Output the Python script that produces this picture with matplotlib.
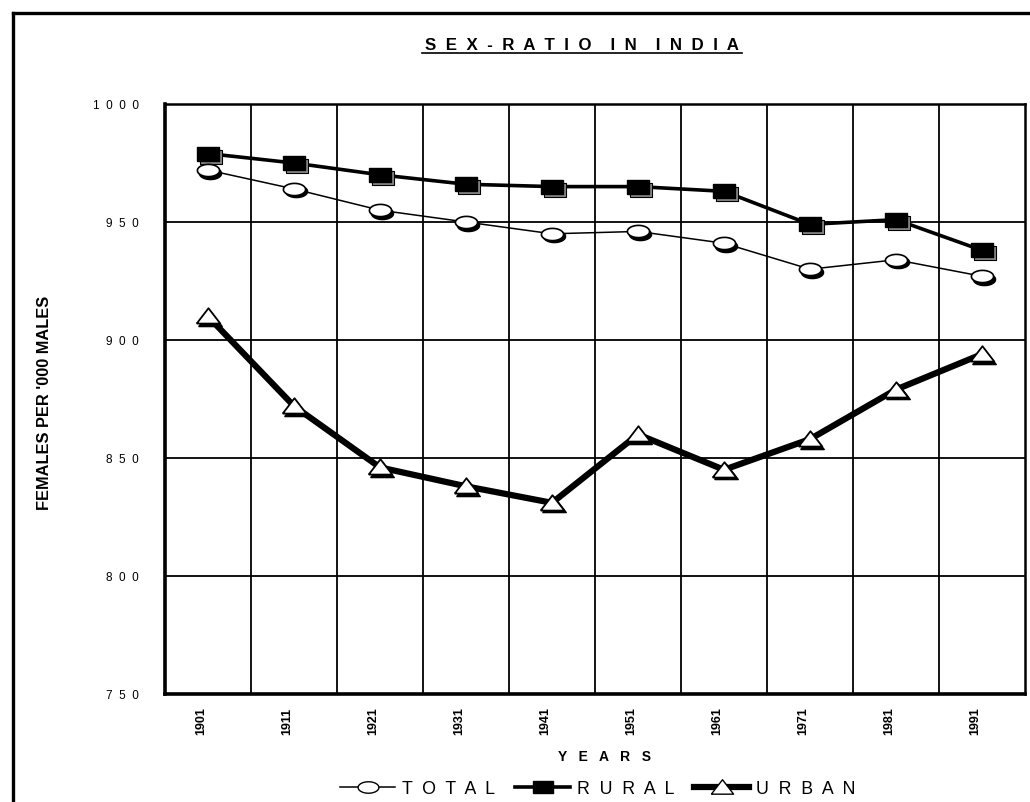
import matplotlib
matplotlib.use("Agg")
import matplotlib.pyplot as plt
from matplotlib.lines import Line2D
from matplotlib import transforms
import numpy as np

plt.rcParams['font.family'] = ['Liberation Sans', 'DejaVu Sans']

# census years and sex ratio (females per '000 males)
years = ['1901', '1911', '1921', '1931', '1941', '1951', '1961', '1971', '1981', '1991']
total = [972, 964, 955, 950, 945, 946, 941, 930, 934, 927]
rural = [979, 975, 970, 966, 965, 965, 963, 949, 951, 938]
urban = [910, 872, 846, 838, 831, 860, 845, 858, 879, 894]

y_ticks = [750, 800, 850, 900, 950, 1000]


def spaced(s, gap='  '):
    return gap.join(list(s))


# custom marker shapes (wide box, ellipse, flat triangle)
box = [(-1, -0.6), (1, -0.6), (1, 0.6), (-1, 0.6), (-1, -0.6)]
t = np.linspace(0, 2 * np.pi, 40)
ell = list(zip(np.cos(t), 0.55 * np.sin(t)))
tri = [(-1, -0.6), (1, -0.6), (0, 0.7), (-1, -0.6)]

fig = plt.figure(figsize=(10.3, 8.03), dpi=100)
ax = fig.add_axes([165 / 1030, 1 - 695 / 803, 860 / 1030, 590 / 803])

x = np.arange(len(years))
shadow = transforms.offset_copy(ax.transData, fig=fig, x=3, y=-3, units='dots')
shadow2 = transforms.offset_copy(ax.transData, fig=fig, x=1.5, y=-2.5, units='dots')

# total
ax.plot(x, total, color='black', lw=1.1, zorder=3)
ax.plot(x, total, ls='', marker=ell, ms=16, mfc='black', mec='black', transform=shadow2, zorder=4)
ax.plot(x, total, ls='', marker=ell, ms=16, mfc='white', mec='black', mew=1.2, zorder=5)

# rural
ax.plot(x, rural, color='black', lw=2.6, zorder=3)
ax.plot(x, rural, ls='', marker=box, ms=16, mfc='#888888', mec='black', mew=0.8, transform=shadow, zorder=4)
ax.plot(x, rural, ls='', marker=box, ms=16, mfc='black', mec='black', zorder=5)

# urban
ax.plot(x, urban, color='black', lw=4.5, zorder=3)
ax.plot(x, urban, ls='', marker=tri, ms=17, mfc='black', mec='black', transform=shadow2, zorder=4)
ax.plot(x, urban, ls='', marker=tri, ms=17, mfc='white', mec='black', mew=1.3, zorder=5)

ax.set_xlim(-0.5, len(years) - 0.5)
ax.set_ylim(750, 1000)
ax.set_xticks(x)
ax.set_xticklabels(years, rotation=90, fontsize=9, fontweight='bold')
ax.set_xticks(x[:-1] + 0.5, minor=True)
ax.set_yticks(y_ticks)
ax.set_yticklabels([spaced(str(v)) for v in y_ticks], fontsize=8.5)
ax.tick_params(axis='both', which='both', length=0)
ax.tick_params(axis='y', pad=19)
ax.tick_params(axis='x', pad=9)
# year labels sit a little left of the points
nudge = transforms.ScaledTranslation(-7 / 100, 0, fig.dpi_scale_trans)
for lbl in ax.get_xticklabels():
    lbl.set_transform(lbl.get_transform() + nudge)
ax.grid(True, which='minor', axis='x', color='black', lw=1.3)
ax.grid(True, which='major', axis='y', color='black', lw=1.3)
ax.set_axisbelow(True)
for side in ['left', 'bottom']:
    ax.spines[side].set_linewidth(2.6)
for side in ['top', 'right']:
    ax.spines[side].set_linewidth(1.8)

ax.set_ylabel("FEMALES PER '000 MALES", fontsize=11.8, fontweight='bold')
ax.yaxis.set_label_coords(45 / 1030, 1 - 403 / 803, transform=fig.transFigure)
ax.yaxis.label.set_verticalalignment('center')

fig.text(604 / 1030, 1 - 757 / 803, spaced('YEARS', '   '), ha='center', va='center',
         fontsize=10, fontweight='bold')

title_txt = spaced('SEX-RATIO', '  ') + '    ' + spaced('IN', '  ') + '    ' + spaced('INDIA', '  ')
fig.text(582 / 1030, 1 - 45 / 803, title_txt, ha='center', va='center', fontsize=12.2, fontweight='bold')
fig.add_artist(Line2D([422 / 1030, 742 / 1030], [1 - 54 / 803, 1 - 54 / 803], color='black', lw=1.2))

handles = [
    Line2D([], [], color='black', lw=1.1, marker=ell, ms=15, mfc='white', mec='black'),
    Line2D([], [], color='black', lw=2.6, marker=box, ms=14, mfc='black', mec='black'),
    Line2D([], [], color='black', lw=4.5, marker=tri, ms=16, mfc='white', mec='black'),
]
labels = [spaced('TOTAL'), spaced('RURAL'), spaced('URBAN')]
fig.legend(handles, labels, loc='center', bbox_to_anchor=(598 / 1030, 1 - 790 / 803), ncol=3,
           frameon=False, fontsize=12.8, handlelength=3.1, handletextpad=0.4, columnspacing=1.1)

# outer frame (open at right and bottom, as cropped)
fig.add_artist(Line2D([13 / 1030, 13 / 1030], [0, 1 - 14 / 803], color='black', lw=2.4))
fig.add_artist(Line2D([13 / 1030, 1], [1 - 14 / 803, 1 - 14 / 803], color='black', lw=2.4))

fig.savefig('out.png', dpi=100)
